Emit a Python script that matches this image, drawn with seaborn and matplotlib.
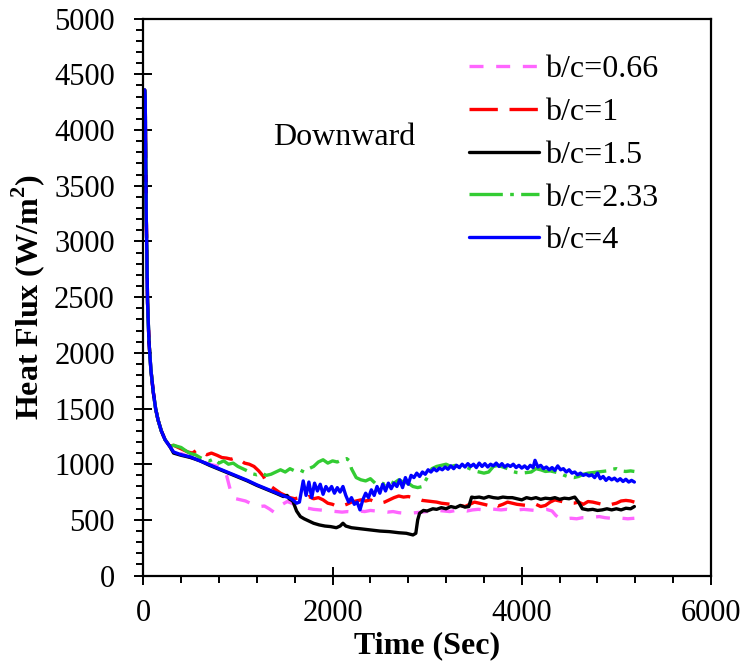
import numpy as np
import pandas as pd
import matplotlib
matplotlib.use("Agg")
import matplotlib.pyplot as plt
import seaborn as sns
from matplotlib.ticker import MultipleLocator

# ---------------- data ----------------
labels = ["b/c=0.66", "b/c=1", "b/c=1.5", "b/c=2.33", "b/c=4"]

# common initial transient
t_head = [15, 20, 30, 45, 60, 80, 105, 130, 155, 190, 230, 280]
q_head = [4360, 4300, 3300, 2450, 2100, 1850, 1650, 1500, 1400, 1300, 1220, 1160]

t_066 = [320, 400, 500, 600, 700, 800, 850, 880, 910, 940, 980, 1030, 1080, 1130, 1180,
         1230, 1280, 1330, 1380, 1420, 1470, 1520, 1570, 1620, 1680, 1740, 1800, 1860,
         1920, 1980, 2040, 2100, 2160, 2220, 2280, 2340, 2400, 2460, 2520, 2580, 2640,
         2700, 2760, 2820, 2880, 2940, 3000, 3060, 3120, 3180, 3240, 3300, 3360, 3420,
         3480, 3540, 3600, 3660, 3720, 3780, 3840, 3900, 3960, 4020, 4080, 4140, 4200,
         4260, 4320, 4360, 4400, 4460, 4520, 4580, 4640, 4700, 4760, 4820, 4880, 4940,
         5000, 5060, 5120, 5190]
q_066 = [1110, 1095, 1060, 1030, 1000, 980, 960, 900, 800, 710, 690, 680, 670, 650, 630,
         620, 625, 600, 570, 600, 640, 665, 650, 630, 615, 605, 595, 590,
         585, 580, 575, 570, 575, 570, 580, 575, 585, 580, 575, 570, 575,
         565, 560, 560, 565, 570, 575, 580, 585, 580, 575, 585, 590, 580,
         590, 595, 590, 600, 595, 590, 595, 585, 590, 595, 590, 585, 590,
         595, 580, 540, 515, 510, 515, 510, 520, 520, 525, 530, 520, 515,
         520, 515, 510, 515]

t_1 = [320, 370, 420, 470, 520, 570, 620, 670, 720, 780, 830, 880, 930, 980, 1020, 1070,
       1120, 1170, 1220, 1270, 1300, 1350, 1400, 1450, 1500, 1550, 1600, 1650, 1700,
       1750, 1800, 1850, 1900, 1950, 2000, 2050, 2100, 2150, 2200, 2250, 2300, 2350,
       2400, 2450, 2500, 2550, 2600, 2650, 2700, 2750, 2800, 2850, 2900, 2950, 3000,
       3050, 3100, 3150, 3200, 3250, 3300, 3350, 3400, 3450, 3500, 3550, 3600, 3650,
       3700, 3750, 3800, 3850, 3900, 3950, 4000, 4050, 4100, 4150, 4200, 4250, 4300,
       4350, 4400, 4450, 4500, 4550, 4600, 4650, 4700, 4750, 4800, 4850, 4900, 4950,
       5000, 5050, 5100, 5150, 5190]
q_1 = [1170, 1150, 1130, 1110, 1100, 1130, 1110, 1085, 1100, 1080, 1060, 1055, 1045, 1060,
       1040, 1010, 1000, 980, 940, 890, 840, 800, 770, 740, 720, 700, 690, 700, 690,
       710, 690, 700, 680, 650, 640, 620, 625, 640, 660, 670, 680, 670,
       680, 660, 650, 660, 680, 700, 715, 705, 710, 700, 690, 675, 670,
       665, 660, 650, 645, 640, 650, 630, 620, 640, 660, 650, 640, 630,
       650, 625, 640, 660, 650, 640, 635, 630, 625, 640, 620, 630, 660,
       680, 670, 660, 650, 650, 660, 640, 665, 660, 650, 640, 630, 640,
       650, 670, 675, 670, 660]

t_15 = [320, 400, 500, 600, 700, 800, 900, 1000, 1100, 1200, 1300, 1400, 1480, 1520, 1540,
        1580, 1620, 1660, 1700, 1750, 1800, 1860, 1920, 1980, 2040, 2080, 2110, 2140,
        2200, 2300, 2400, 2500, 2600, 2700, 2780, 2850, 2880, 2900, 2920, 2960, 3000,
        3060, 3100, 3150, 3200, 3250, 3300, 3350, 3400, 3440, 3470, 3500, 3550, 3600,
        3650, 3700, 3750, 3800, 3850, 3900, 3950, 4000, 4050, 4100, 4150, 4200, 4250,
        4300, 4350, 4400, 4450, 4500, 4560, 4600, 4640, 4700, 4750, 4800, 4850, 4900,
        4950, 5000, 5050, 5100, 5150, 5190]
q_15 = [1100, 1080, 1060, 1030, 990, 955, 920, 885, 850, 810, 775, 740, 710, 720, 690,
        670, 580, 530, 510, 490, 470, 455, 445, 440, 430, 445, 470, 445,
        430, 420, 410, 400, 395, 385, 380, 365, 380, 500, 560, 585, 580,
        600, 595, 610, 600, 620, 610, 630, 615, 620, 705, 700, 705, 695,
        710, 700, 695, 705, 700, 700, 690, 680, 700, 690, 700, 685, 695,
        690, 700, 685, 695, 690, 705, 660, 600, 590, 595, 585, 590, 600,
        590, 600, 590, 605, 600, 620]

t_233 = [320, 360, 400, 450, 500, 550, 600, 650, 700, 750, 800, 850, 900, 950, 1000, 1050,
         1100, 1150, 1200, 1250, 1300, 1350, 1400, 1450, 1500, 1550, 1600, 1650, 1700,
         1750, 1800, 1850, 1900, 1950, 2000, 2050, 2100, 2150, 2180, 2200, 2250, 2300,
         2350, 2400, 2450, 2500, 2550, 2600, 2650, 2700, 2750, 2800, 2850, 2900, 2950,
         3000, 3050, 3100, 3150, 3200, 3250, 3300, 3350, 3400, 3450, 3500, 3550, 3600,
         3650, 3700, 3750, 3800, 3850, 3900, 3950, 4000, 4050, 4100, 4150, 4200, 4250,
         4300, 4350, 4400, 4450, 4500, 4550, 4600, 4650, 4700, 4750, 4800, 4850, 4900,
         4950, 5000, 5050, 5100, 5150, 5190]
q_233 = [1170, 1160, 1150, 1120, 1095, 1085, 1060, 1040, 1030, 1050, 1010, 1030, 1000, 1010,
         980, 960, 940, 915, 905, 920, 900, 910, 930, 950, 930, 960, 940, 950, 930,
         960, 980, 1020, 1040, 1010, 1030, 1020, 1040, 1050, 1030, 960, 880, 860,
         850, 870, 830, 840, 820, 850, 830, 860, 840, 830, 800, 790, 800,
         880, 960, 980, 990, 1000, 980, 990, 970, 980, 960, 940, 930, 920,
         930, 980, 990, 975, 960, 935, 925, 920, 925, 930, 960, 950, 935,
         940, 930, 920, 900, 885, 880, 890, 910, 920, 925, 930, 935, 940,
         955, 960, 940, 935, 940, 935]

t_4 = [320, 400, 500, 600, 700, 800, 900, 1000, 1100, 1200, 1300, 1400, 1500, 1540, 1580,
       1620, 1650, 1690, 1720, 1750, 1780, 1810, 1840, 1870, 1900, 1930, 1960, 1990,
       2020, 2050, 2080, 2110, 2140, 2170, 2200, 2230, 2260, 2290, 2320, 2350, 2380,
       2410, 2440, 2470, 2500, 2530, 2560, 2590, 2620, 2650, 2680, 2710, 2740, 2770,
       2800, 2830, 2860, 2890, 2920, 2950, 2980, 3010, 3040, 3070, 3100, 3130, 3160,
       3190, 3220, 3250, 3280, 3310, 3340, 3370, 3400, 3430, 3460, 3490, 3520, 3550,
       3580, 3610, 3640, 3670, 3700, 3730, 3760, 3790, 3820, 3850, 3880, 3910, 3940,
       3970, 4000, 4030, 4060, 4090, 4120, 4140, 4170, 4200, 4230, 4260, 4290, 4320,
       4350, 4380, 4410, 4440, 4470, 4500, 4530, 4560, 4590, 4620, 4650, 4680, 4710,
       4740, 4770, 4800, 4830, 4860, 4890, 4920, 4950, 4980, 5010, 5040, 5070, 5100,
       5130, 5160, 5190]
q_4 = [1110, 1085, 1065, 1030, 995, 960, 925, 890, 855, 815, 780, 745, 710, 700, 680,
       650, 660, 850, 720, 840, 700, 830, 760, 820, 730, 800, 760, 800,
       740, 790, 750, 800, 720, 660, 700, 640, 660, 590, 680, 740, 700,
       770, 720, 800, 740, 820, 760, 830, 780, 830, 800, 860, 790, 880,
       820, 900, 880, 920, 890, 930, 910, 950, 930, 960, 940, 965, 950,
       975, 955, 985, 960, 990, 970, 1000, 975, 1005, 980, 1000, 970, 1010,
       980, 1005, 975, 1000, 985, 1010, 980, 1005, 975, 995, 980, 1000, 970,
       990, 965, 985, 960, 990, 970, 1035, 975, 990, 960, 975, 950, 970,
       945, 985, 950, 960, 930, 950, 920, 930, 905, 920, 900, 910, 895,
       905, 880, 920, 870, 890, 855, 880, 860, 875, 850, 870, 845, 865,
       840, 855, 840]

series_t = [t_066, t_1, t_15, t_233, t_4]
series_q = [q_066, q_1, q_15, q_233, q_4]

colors = ["#ff66ff", "#ff0000", "#000000", "#33cc33", "#0000ff"]
styles = [(0, (4.2, 3.8)), (0, (8.5, 3.5)), "-", (0, (10, 2.2, 1.1, 2.2)), "-"]

# ---------------- figure ----------------
sns.set_theme(style="white")
plt.rcParams["font.family"] = ["Liberation Serif", "DejaVu Serif"]
plt.rcParams["mathtext.fontset"] = "custom"
plt.rcParams["mathtext.rm"] = "Liberation Serif"
plt.rcParams["mathtext.bf"] = "Liberation Serif:bold"
plt.rcParams["text.color"] = "black"
plt.rcParams["axes.labelcolor"] = "black"
plt.rcParams["xtick.color"] = "black"
plt.rcParams["ytick.color"] = "black"

FS_TICK = 22
FS = 23
fig = plt.figure(figsize=(7.46, 6.68), dpi=100)
ax = fig.add_axes([0.1921, 0.1383, 0.7610, 0.8338])

frames = []
for lab, tt, qq in zip(labels, series_t, series_q):
    frames.append(pd.DataFrame({"Time": list(t_head) + list(tt),
                                "Flux": list(q_head) + list(qq),
                                "Case": lab}))
df = pd.concat(frames, ignore_index=True)

for lab, c, ls in zip(labels, colors, styles):
    sub = df[df["Case"] == lab]
    sns.lineplot(data=sub, x="Time", y="Flux", ax=ax, color=c, linestyle=ls,
                 linewidth=2.4, label=lab, sort=False, estimator=None)

ax.set_xlim(0, 6000)
ax.set_ylim(0, 5000)
ax.xaxis.set_major_locator(MultipleLocator(2000))
ax.xaxis.set_minor_locator(MultipleLocator(400))
ax.yaxis.set_major_locator(MultipleLocator(500))
ax.yaxis.set_minor_locator(MultipleLocator(100))

for s in ax.spines.values():
    s.set_color("black")
    s.set_linewidth(1.6)

ax.tick_params(axis="both", which="major", direction="inout", length=13, width=1.4,
               colors="black", labelsize=FS_TICK, left=True, bottom=True)
ax.tick_params(axis="both", which="minor", direction="out", length=5, width=1.4,
               colors="black", left=True, bottom=True)
ax.tick_params(axis="y", which="major", pad=14)
ax.tick_params(axis="x", which="major", pad=10)

ax.set_xlabel("Time (Sec)", fontsize=FS, fontweight="bold", labelpad=3, color="black")
ax.set_ylabel(r"Heat Flux (W/m$^\mathbf{2}$)", fontsize=FS, fontweight="bold", labelpad=5,
              color="black")

ax.text(2120, 3935, "Downward", fontsize=FS, ha="center", va="center", color="black")

leg = ax.legend(loc="upper left", bbox_to_anchor=(0.573, 0.935), frameon=False, fontsize=FS,
                handlelength=2.2, handletextpad=0.2, labelspacing=0.42, borderpad=0,
                borderaxespad=0)
for txt in leg.get_texts():
    txt.set_color("black")

fig.savefig("out.png", dpi=100)
